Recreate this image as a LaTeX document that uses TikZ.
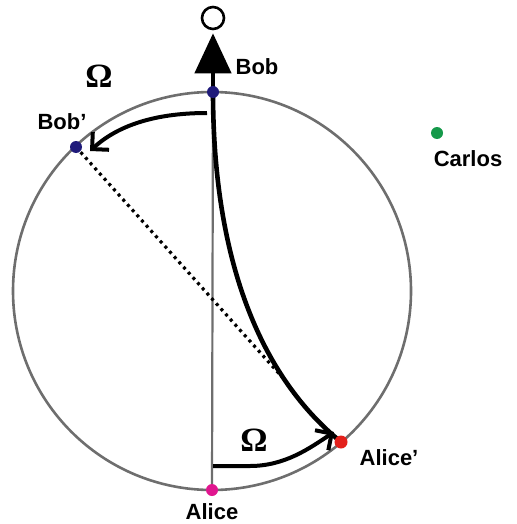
\documentclass[tikz,border=0pt]{standalone}
\usepackage{fontspec}
\setmainfont{Liberation Sans}
\newfontfamily\omegafont{Liberation Serif}
\usetikzlibrary{arrows.meta}
\definecolor{rimgray}{HTML}{6E6E6E}
\definecolor{bobblue}{HTML}{1F1A7A}
\definecolor{alicered}{HTML}{E3201B}
\definecolor{alicepink}{HTML}{E0168F}
\definecolor{carlosgreen}{HTML}{15994A}
\tikzset{
    every node/.style={font=\fontsize{22}{26}\selectfont\bfseries},
    party/.style={circle,inner sep=0pt,minimum size=12pt},
    omegalbl/.style={font=\omegafont\fontsize{34}{36}\selectfont\bfseries},
    rim/.style={draw=rimgray,line width=2.6pt},
    worldline/.style={draw=black,line width=4.6pt},
    turn/.style={draw=black,line width=4pt,-{Straight Barb[length=12pt,width=24pt,line width=4pt]}}
}
\begin{document}
\begin{tikzpicture}[x=1pt,y=-1pt]
\useasboundingbox (0,0) rectangle (516,524);
% circle and axis
\draw[rim] (212,291) circle (199);
\node[party] (bob) at (213,92) {};
\node[party] (alice) at (212,490) {};
\node[party] (bobp) at (76,147) {};
\node[party] (alicep) at (341,442) {};
\node[party] (carlos) at (437,133) {};
\node[circle,draw,line width=2.6pt,minimum size=22pt,inner sep=0pt] (obs) at (213,18) {};
\draw[draw=rimgray,line width=2.2pt] (alice.center) -- (bob.center);
\coordinate (dotend) at (283,378);
\draw[line width=3.2pt,dash pattern=on 3pt off 4pt] (bobp.center) -- (dotend);
% thick world line
\draw[worldline] (alicep.center) .. controls (255,372) and (213,250) .. (bob.center);
\draw[worldline,-{Triangle[length=40pt,width=36pt]},shorten >=3pt] (bob.center) -- (obs);
% rotation arrows
\coordinate (topstart) at (207,113);
\coordinate (topend) at (90,151);
\draw[turn] (topstart) .. controls (150,113) and (115,128) .. (topend);
\coordinate (botstart) at (213,466);
\coordinate (botend) at (334,432);
\draw[turn] (botstart) -- (250,466) .. controls (285,466) and (310,448) .. (botend);
% dots
\fill[bobblue] (bob) circle (6);
\fill[bobblue] (bobp) circle (6);
\fill[alicered] (alicep) circle (6.5);
\fill[alicepink] (alice) circle (6);
\fill[carlosgreen] (carlos) circle (6);
% labels
\node (boblbl) at (257,67) {Bob};
\node (bobplbl) at (62,122) {Bob’};
\node (carloslbl) at (468,159) {Carlos};
\node (aliceplbl) at (389,458) {Alice’};
\node (alicelbl) at (212,512) {Alice};
\node[omegalbl] (om1) at (99,76) {Ω};
\node[omegalbl] (om2) at (254,440) {Ω};
\end{tikzpicture}
\end{document}
